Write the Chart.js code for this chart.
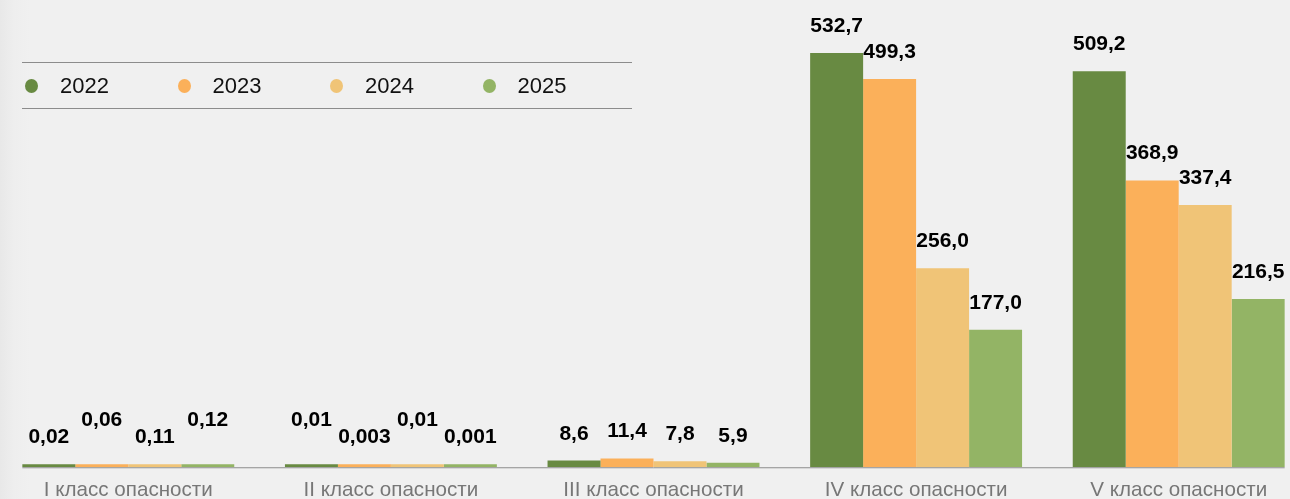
<!DOCTYPE html>
<html lang="ru">
<head>
<meta charset="utf-8">
<title>Отходы по классам опасности</title>
<script src="https://cdn.jsdelivr.net/npm/chart.js@4"></script>
<style>
  html, body {
    margin: 0;
    padding: 0;
    width: 1290px;
    height: 499px;
    overflow: hidden;
    background: linear-gradient(to right, #e8e8e8 0px, #eeeeee 14px, #f0f0f0 30px);
    font-family: "Liberation Sans", Arial, sans-serif;
  }
  #wrap {
    position: absolute;
    left: -3px;
    top: 0;
    width: 1313px;
    height: 514px;
  }
  #legend {
    position: absolute;
    left: 22px;
    top: 62px;
    width: 610px;
    height: 45px;
    border-top: 1px solid #8c8c8c;
    border-bottom: 1px solid #8c8c8c;
    display: flex;
    align-items: center;
  }
  #legend .item {
    width: 152.5px;
    display: flex;
    align-items: center;
    font-size: 22px;
    color: #111;
  }
  #legend .dot {
    width: 13px;
    height: 14px;
    border-radius: 50%;
    margin-left: 3px;
    margin-right: 22px;
  }
</style>
</head>
<body>
<div id="wrap"><canvas id="wasteChart"></canvas></div>
<div id="legend"></div>

<script>
const categories = ["I класс опасности", "II класс опасности", "III класс опасности", "IV класс опасности", "V класс опасности"];
const years = ["2022", "2023", "2024", "2025"];

const values2022 = [0.02, 0.01, 8.6, 532.7, 509.2];
const values2023 = [0.06, 0.003, 11.4, 499.3, 368.9];
const values2024 = [0.11, 0.01, 7.8, 256.0, 337.4];
const values2025 = [0.12, 0.001, 5.9, 177.0, 216.5];

const colors = ["#688a42", "#fbb05a", "#f0c477", "#93b465"];

const series = [values2022, values2023, values2024, values2025];

function formatValue(v) {
    let s = v >= 1 ? v.toFixed(1) : String(v);
    return s.replace(".", ",");
}

// legend above the bars
let legendBox = document.getElementById("legend");
years.forEach(function (year, i) {
    let item = document.createElement("div");
    item.className = "item";
    let dot = document.createElement("span");
    dot.className = "dot";
    dot.style.background = colors[i];
    item.appendChild(dot);
    item.appendChild(document.createTextNode(year));
    legendBox.appendChild(item);
});

// baseline under the bar groups, from first bar to last bar
const baselinePlugin = {
    id: "baseline",
    afterDatasetsDraw(chart) {
        let first = chart.getDatasetMeta(0).data[0];
        let lastMeta = chart.getDatasetMeta(chart.data.datasets.length - 1);
        let last = lastMeta.data[lastMeta.data.length - 1];
        let y = chart.scales.y.getPixelForValue(0) + 0.5;
        let ctx = chart.ctx;
        ctx.save();
        ctx.strokeStyle = "#8c8c8c";
        ctx.lineWidth = 1;
        ctx.beginPath();
        ctx.moveTo(first.x - first.width / 2, y);
        ctx.lineTo(last.x + last.width / 2, y);
        ctx.stroke();
        ctx.restore();
    }
};

// value labels above each bar; tiny groups get staggered labels
const valueLabels = {
    id: "valueLabels",
    afterDatasetsDraw(chart) {
        let ctx = chart.ctx;
        ctx.save();
        ctx.font = "bold 21px 'Liberation Sans', Arial, sans-serif";
        ctx.fillStyle = "#000";
        ctx.textAlign = "center";
        ctx.textBaseline = "alphabetic";
        categories.forEach(function (cat, c) {
            let group = series.map(function (s) { return s[c]; });
            let crowded = Math.max.apply(null, group) < 1;
            let raiseFrom = group[0] > group[1] ? 0 : 1;
            chart.data.datasets.forEach(function (ds, d) {
                let bar = chart.getDatasetMeta(d).data[c];
                let y = bar.y - 21;
                if (crowded && d % 2 === raiseFrom) {
                    y -= 17;
                }
                ctx.fillText(formatValue(ds.data[c]), bar.x, y);
            });
        });
        ctx.restore();
    }
};

let ctx = document.getElementById("wasteChart").getContext("2d");
new Chart(ctx, {
    type: "bar",
    data: {
        labels: categories,
        datasets: years.map(function (year, i) {
            return {
                label: year,
                data: series[i],
                backgroundColor: colors[i],
                borderWidth: 0,
                minBarLength: 3,
                categoryPercentage: 0.807,
                barPercentage: 1
            };
        })
    },
    options: {
        responsive: true,
        maintainAspectRatio: false,
        animation: false,
        layout: { padding: 0 },
        plugins: {
            legend: { display: false },
            tooltip: { enabled: false }
        },
        scales: {
            x: {
                grid: { display: false, drawTicks: false },
                border: { display: false },
                ticks: {
                    color: "#777777",
                    padding: 11,
                    font: { family: "'Liberation Sans', Arial, sans-serif", size: 20.6 }
                }
            },
            y: {
                display: false,
                min: 0,
                max: 601
            }
        }
    },
    plugins: [baselinePlugin, valueLabels]
});
</script>
</body>
</html>
